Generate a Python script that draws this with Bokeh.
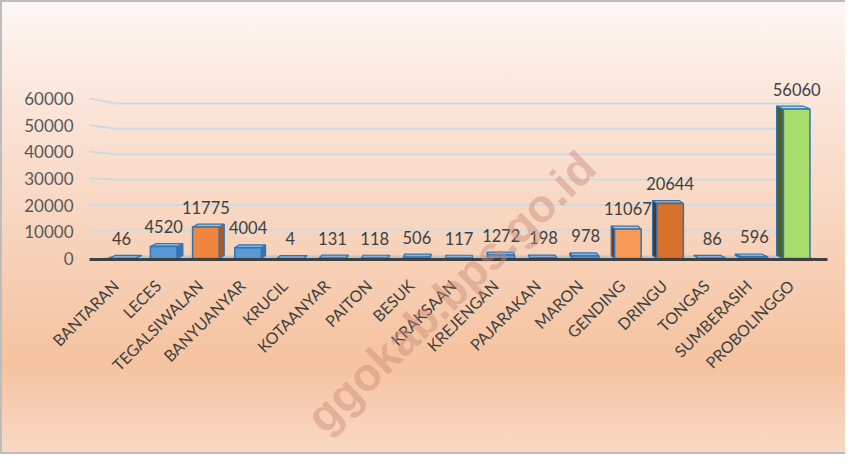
import math
from bokeh.plotting import figure
from bokeh.models import FixedTicker, Label
from bokeh.embed import file_html
from bokeh.resources import INLINE
from bokeh.core.properties import value

# ---- data ----
categories = ["BANTARAN", "LECES", "TEGALSIWALAN", "BANYUANYAR", "KRUCIL", "KOTAANYAR",
              "PAITON", "BESUK", "KRAKSAAN", "KREJENGAN", "PAJARAKAN", "MARON", "GENDING",
              "DRINGU", "TONGAS", "SUMBERASIH", "PROBOLINGGO"]
counts = [46, 4520, 11775, 4004, 4, 131, 118, 506, 117, 1272, 198, 978, 11067, 20644, 86, 596, 56060]
y_ticks = [0, 10000, 20000, 30000, 40000, 50000, 60000]
watermark = "ggokab.bps.go.id"

# ---- styles ----
FONT = "Lato"
BLUE = ("#5b9bd5", "#3d73ab", "#80b3e6")
special = {
    "TEGALSIWALAN": ("#f0863d", "#a65a2a", "#f7a86c"),
    "GENDING": ("#f79a55", "#6e3b1c", "#fab685"),
    "DRINGU": ("#d8712c", "#5a3218", "#e89157"),
    "PROBOLINGGO": ("#a8dc6b", "#4e5f2a", "#c4ea94"),
}
EDGE = "#2e75b6"

n = len(categories)
xs_idx = list(range(n))

p = figure(width=845, height=454, output_backend="svg", toolbar_location=None,
           x_range=(-1.919, 17.157), y_range=(-73500, 93750),
           min_border_left=40, min_border_right=0, min_border_top=8, min_border_bottom=0)
p.background_fill_alpha = 0
p.border_fill_alpha = 0
p.outline_line_color = None
p.styles = {
    "background": "linear-gradient(to bottom, #fef8f5 0%, #fbe7dc 20%, #f8d5be 50%, #f5c3a0 80%, #f9d9c5 100%)",
    "box-shadow": "inset 2px 2px 0 #bdbdbd, inset 0 -2px 0 #bdbdbd",
}
p.xgrid.visible = False
p.ygrid.visible = False
p.xaxis.visible = False

# y axis (labels pulled to the right so the plot frame can hold the rotated category labels)
p.yaxis.ticker = FixedTicker(ticks=y_ticks)
p.yaxis.axis_line_color = None
p.yaxis.major_tick_line_color = None
p.yaxis.minor_tick_line_color = None
p.yaxis.major_tick_out = 0
p.yaxis.major_tick_in = 0
p.yaxis.major_label_standoff = -33
p.yaxis.major_label_text_font = FONT
p.yaxis.major_label_text_font_size = "17px"
p.yaxis.major_label_text_color = "#595959"

# perspective gridlines (back wall + side wall segment)
x_front, x_back_l, x_back_r, x_front_r = -0.758, -0.118, 16.07, 16.73
def back(v):
    return 1125 + 0.95 * v
gt = [t for t in y_ticks if t > 0]
p.segment(x0=[x_back_l] * len(gt), y0=[back(t) for t in gt],
          x1=[x_back_r] * len(gt), y1=[back(t) for t in gt],
          line_color="#cfd9e3", line_width=2)
p.segment(x0=[x_front] * len(gt), y0=gt,
          x1=[x_back_l] * len(gt), y1=[back(t) for t in gt],
          line_color="#cfd9e3", line_width=2)

# floor
p.patch(x=[x_front, x_front_r, x_back_r, x_back_l], y=[-375, -375, back(0), back(0)],
        fill_color="#c3c3c3", line_color=None)

# bars (3D look)
hw, dv, ctr = 0.315, 1100, 8
side_x, side_y, side_c = [], [], []
top_x, top_y, top_c = [], [], []
fronts = []
for i, (c, v) in enumerate(zip(categories, counts)):
    front, sidec, topc = special.get(c, BLUE)
    sgn = 1 if i < ctr else (-1 if i > ctr else 0)
    s = 0.02 * abs(i - ctr)
    xl, xr = i - hw, i + hw
    e = xr if sgn > 0 else xl
    side_x.append([e, e, e + sgn * s, e + sgn * s])
    side_y.append([0, v, v + dv, dv])
    side_c.append(sidec)
    top_x.append([xl, xr, xr + sgn * s, xl + sgn * s])
    top_y.append([v, v, v + dv, v + dv])
    top_c.append(topc)
    fronts.append(front)

p.patches(xs=side_x, ys=side_y, fill_color=side_c, line_color=EDGE, line_width=1.2)
p.patches(xs=top_x, ys=top_y, fill_color=top_c, line_color=EDGE, line_width=1.2)
p.quad(left=[i - hw for i in xs_idx], right=[i + hw for i in xs_idx],
       bottom=[0] * n, top=counts, fill_color=fronts, line_color=EDGE, line_width=1.5)

# floor front edge
p.line(x=[x_front, x_front_r], y=[-375, -375], line_color="#404040", line_width=3)

# data labels
p.text(x=xs_idx, y=counts, text=[str(v) for v in counts], y_offset=-20,
       text_align="center", text_baseline="middle", text_font=value(FONT),
       text_font_size="16.5px", text_color="#404040")

# category labels (rotated 45 degrees, placed under each bar)
p.text(x=xs_idx, y=[0] * n, text=categories, angle=math.pi / 4, x_offset=-6, y_offset=24,
       text_align="right", text_baseline="middle", text_font=value(FONT),
       text_font_size="16px", text_color="#404040")

# watermark
p.add_layout(Label(x=11.05, y=37125, text=watermark, angle=0.768, text_align="right",
                   text_baseline="middle", text_font="Liberation Sans", text_font_style="bold",
                   text_font_size="46px", text_color="#c98a78", text_alpha=0.45))

open("out.html", "w").write(file_html(p, INLINE))
